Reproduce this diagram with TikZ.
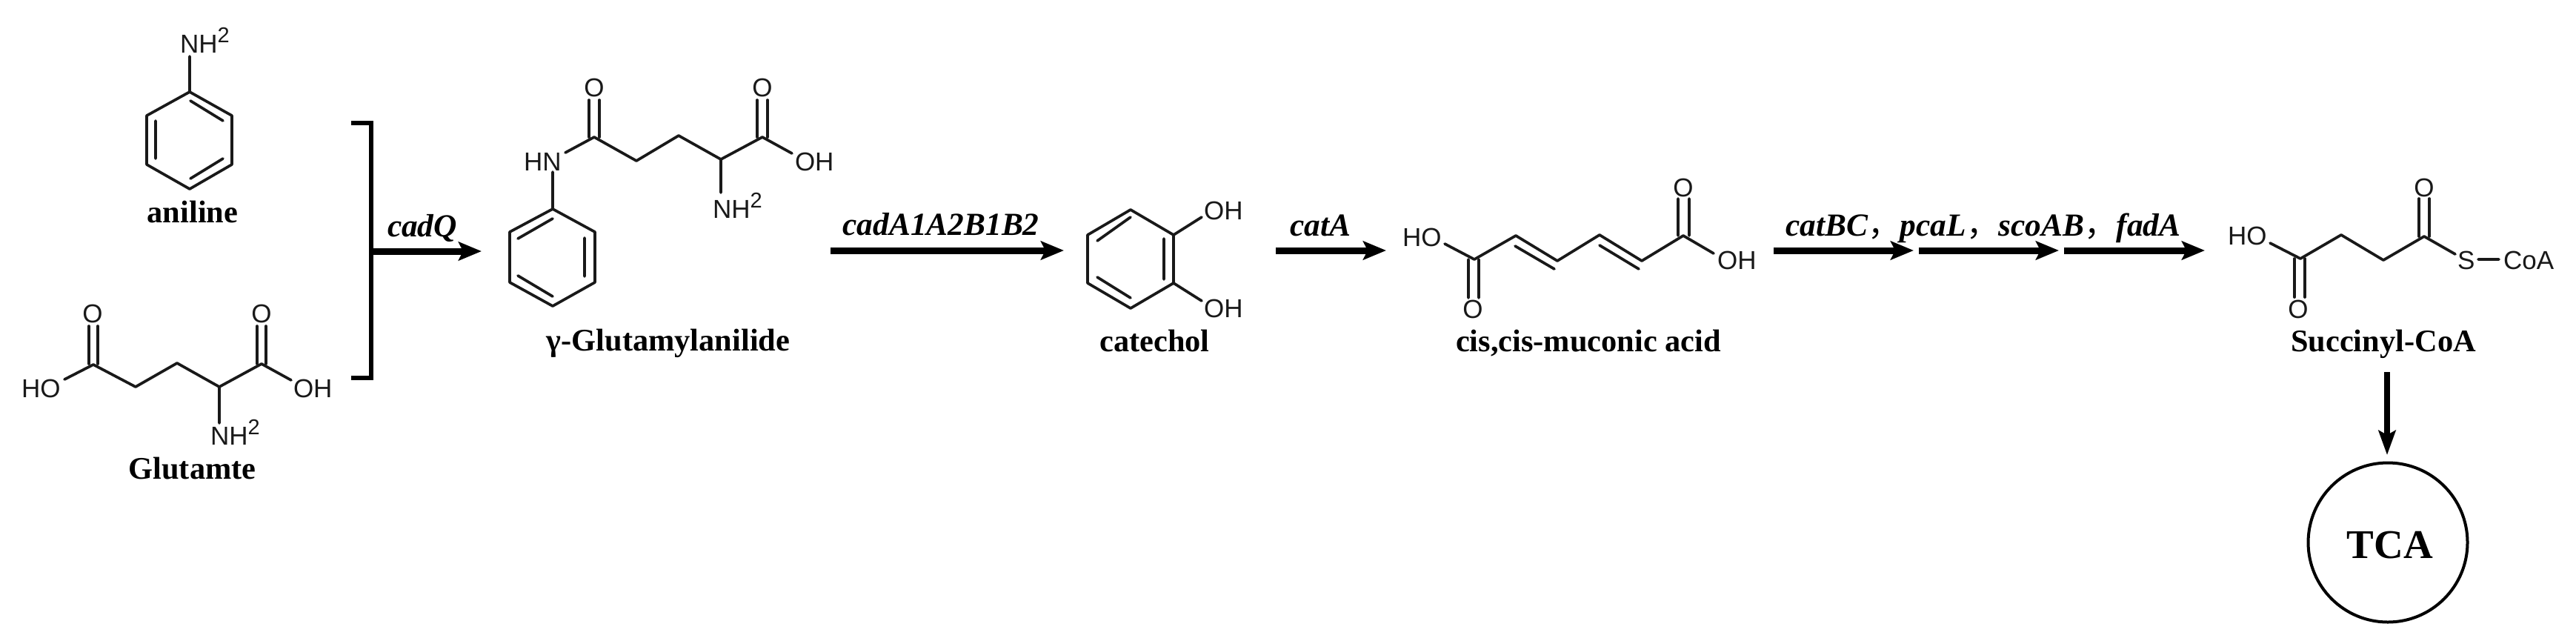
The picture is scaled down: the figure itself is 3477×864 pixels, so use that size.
\documentclass[tikz,border=0pt]{standalone}
\usepackage{fontspec}
\setmainfont{Liberation Serif}
\setsansfont{Liberation Sans}
\newfontfamily\cjkcomma{Noto Sans CJK SC}
\usetikzlibrary{arrows.meta}
\newcommand{\nhtwo}{NH\raisebox{7pt}{\fontsize{14.5}{14.5}\selectfont 2}}
\tikzset{
  bond/.style={draw=black!90,line width=1.85pt,line cap=round,line join=round},
  atom/.style={font=\fontsize{17.5}{18}\selectfont\sffamily,inner sep=0pt,outer sep=0pt,anchor=base,text=black!90},
  atomw/.style={atom,anchor=base west},
  cname/.style={font=\fontsize{21.2}{22}\selectfont\bfseries,inner sep=0pt,outer sep=0pt,anchor=base,text=black},
  gene/.style={font=\fontsize{21.7}{22}\selectfont\bfseries\itshape,inner sep=0pt,outer sep=0pt,anchor=base,text=black},
  rxn/.style={line width=4.5pt,draw=black,-{Stealth[length=15.5pt,width=12.5pt,inset=3pt]}},
  brk/.style={line width=2.8pt,draw=black,line cap=butt,line join=miter},
}
\begin{document}
\begin{tikzpicture}[x=0.5pt,y=-0.5pt]
\useasboundingbox[fill=white] (0,0) rectangle (3477,864);

% ---------- aniline
\foreach \n/\x/\y in {an1/256/124,an2/313/156,an3/313/222,an4/256/255,an5/198/222,an6/198/156,
  anN/256/76,ani1/257/136,ani2/301/163,ani3/210/163,ani4/210/214,ani5/257/241,ani6/301/214}
  \coordinate (\n) at (\x,\y);
\draw[bond] (an1)--(an2)--(an3)--(an4)--(an5)--(an6)--cycle;
\draw[bond] (an1)--(anN) (ani1)--(ani2) (ani3)--(ani4) (ani5)--(ani6);
\node[atomw] (anNH) at (243,71) {\nhtwo};
\node[cname] (anilab) at (260,300) {aniline};

% ---------- glutamate
\foreach \n/\x/\y in {g1/126/492,g2/183/522,g3/239/490,g4/296/522,g5/353/491,gHO/87/512,gOH/393/513,
  gN/296/571,gd1/120/491,gd2/120/440,gd3/132/491,gd4/132/440,gd5/347/491,gd6/347/440,gd7/359/491,gd8/359/440}
  \coordinate (\n) at (\x,\y);
\draw[bond] (gHO)--(g1)--(g2)--(g3)--(g4)--(g5)--(gOH) (g4)--(gN);
\draw[bond] (gd1)--(gd2) (gd3)--(gd4) (gd5)--(gd6) (gd7)--(gd8);
\node[atom] (gO1) at (125,435.5) {O};
\node[atom] (gO2) at (353,435.5) {O};
\node[atomw] (gHOt) at (29,536) {HO};
\node[atomw] (gOHt) at (396,536) {OH};
\node[atomw] (gNH) at (284,600) {\nhtwo};
\node[cname] (glulab) at (259.5,646) {Glutamte};

% ---------- bracket and cadQ
\foreach \n/\x/\y in {b1/474/166,b2/501/166,b3/501/510,b4/474/510,bm/501/339,bend/650/339}
  \coordinate (\n) at (\x,\y);
\draw[brk] (b1)--(b2)--(b3)--(b4);
\draw[rxn] (bm)--(bend);
\node[gene] (cadQ) at (570,319) {cadQ};

% ---------- gamma-glutamylanilide
\foreach \n/\x/\y in {p1/746/282,p2/803/313,p3/803/381,p4/746/413,p5/688/381,p6/688/313,pN/746/232,
  pi1/699/322,pi2/746/295,pi3/789/321,pi4/789/373,pi5/699/372,pi6/746/400,
  pHN/763/206,c1/802/185,c2/859/217,c3/916/183,c4/973/215,c5/1029/185,cOH/1069/207,cN/973/260,
  cd1/795/185,cd2/795/135,cd3/809/185,cd4/809/135,cd5/1022/185,cd6/1022/135,cd7/1036/185,cd8/1036/135}
  \coordinate (\n) at (\x,\y);
\draw[bond] (p1)--(p2)--(p3)--(p4)--(p5)--(p6)--cycle;
\draw[bond] (pi1)--(pi2) (pi3)--(pi4) (pi5)--(pi6) (p1)--(pN);
\draw[bond] (pHN)--(c1)--(c2)--(c3)--(c4)--(c5)--(cOH) (c4)--(cN);
\draw[bond] (cd1)--(cd2) (cd3)--(cd4) (cd5)--(cd6) (cd7)--(cd8);
\node[atom] (cO1) at (802,130.5) {O};
\node[atom] (cO2) at (1029,130.5) {O};
\node[atomw] (cHN) at (707,230) {HN};
\node[atomw] (cOHt) at (1073,230) {OH};
\node[atomw] (cNH) at (962,294) {\nhtwo};
\node[cname] (glan) at (902,473) {γ-Glutamylanilide};

% ---------- cadA arrow
\coordinate (ca1) at (1121,338);
\coordinate (ca2) at (1436,338);
\draw[rxn] (ca1)--(ca2);
\node[gene] (cadA) at (1270,317) {cadA1A2B1B2};

% ---------- catechol
\foreach \n/\x/\y in {k1/1526/283,k2/1584/317,k3/1584/382,k4/1526/416,k5/1468/382,k6/1468/317,
  ki1/1481/325,ki2/1526/293,ki3/1571/322,ki4/1571/377,ki5/1481/374,ki6/1526/402,kO1/1622/293,kO2/1622/406}
  \coordinate (\n) at (\x,\y);
\draw[bond] (k1)--(k2)--(k3)--(k4)--(k5)--(k6)--cycle;
\draw[bond] (ki1)--(ki2) (ki3)--(ki4) (ki5)--(ki6) (k2)--(kO1) (k3)--(kO2);
\node[atomw] (kOH1) at (1625,296) {OH};
\node[atomw] (kOH2) at (1625,428) {OH};
\node[cname] (catlab) at (1558.5,474) {catechol};

% ---------- catA arrow
\coordinate (cb1) at (1722,338);
\coordinate (cb2) at (1871,338);
\draw[rxn] (cb1)--(cb2);
\node[gene] (catA) at (1782,318) {catA};

% ---------- muconic acid
\foreach \n/\x/\y in {m0/1950/329,m1/1990/350,m2/2046/318,m3/2102/352,m4/2159/317,m5/2216/352,m6/2272/318,m7/2313/342,
  mi1/2045/332,mi2/2098/363,mi3/2159/331,mi4/2212/363,
  md1/1982/350,md2/1982/402,md3/1996/350,md4/1996/402,md5/2265/318,md6/2265/268,md7/2280/318,md8/2280/268}
  \coordinate (\n) at (\x,\y);
\draw[bond] (m0)--(m1)--(m2)--(m3)--(m4)--(m5)--(m6)--(m7);
\draw[bond] (mi1)--(mi2) (mi3)--(mi4) (md1)--(md2) (md3)--(md4) (md5)--(md6) (md7)--(md8);
\node[atom] (mO1) at (1988,429.5) {O};
\node[atom] (mO2) at (2272,265.5) {O};
\node[atomw] (mHO) at (1893,332) {HO};
\node[atomw] (mOH) at (2318,363) {OH};
\node[cname] (muclab) at (2144,474) {cis,cis-muconic acid};

% ---------- three arrows
\foreach \n/\x in {d1/2394,d2/2583,d3/2590,d4/2779,d5/2786,d6/2976}
  \coordinate (\n) at (\x,338);
\draw[rxn] (d1)--(d2);
\draw[rxn] (d3)--(d4);
\draw[rxn] (d5)--(d6);
\node[gene] (genes) at (2677,318) {catBC{\cjkcomma\mdseries\upshape ，}pcaL{\cjkcomma\mdseries\upshape ，}scoAB{\cjkcomma\mdseries\upshape ，}fadA};

% ---------- succinyl-CoA
\foreach \n/\x/\y in {s0/3064/328,s1/3105/349,s2/3160/317,s3/3217/351,s4/3272/319,s5/3314/343,sa/3345/350,sb/3373/350,
  sd1/3097/349,sd2/3097/401,sd3/3111/349,sd4/3111/401,sd5/3265/319,sd6/3265/268,sd7/3279/319,sd8/3279/268}
  \coordinate (\n) at (\x,\y);
\draw[bond] (s0)--(s1)--(s2)--(s3)--(s4)--(s5) (sa)--(sb);
\draw[bond] (sd1)--(sd2) (sd3)--(sd4) (sd5)--(sd6) (sd7)--(sd8);
\node[atom] (sO1) at (3102,429.5) {O};
\node[atom] (sO2) at (3272,265.5) {O};
\node[atomw] (sHO) at (3007,330) {HO};
\node[atomw] (sS) at (3317,363) {S};
\node[atomw] (sCoA) at (3379,363) {CoA};
\node[cname] (suclab) at (3217,474) {Succinyl-CoA};

% ---------- TCA
\node[circle,draw=black,line width=2pt,minimum size=107.5pt,inner sep=0pt] (tca) at (3223,732) {};
\node[font=\fontsize{27.5}{28}\selectfont\bfseries,inner sep=0pt,anchor=base,text=black] (tcat) at (3226,753) {TCA};
\coordinate (ar1) at (3222,502);
\coordinate (ar2) at (3222,614);
\draw[line width=4pt,draw=black,-{Stealth[length=16.5pt,width=11.5pt,inset=3pt]}] (ar1)--(ar2);
\end{tikzpicture}
\end{document}
